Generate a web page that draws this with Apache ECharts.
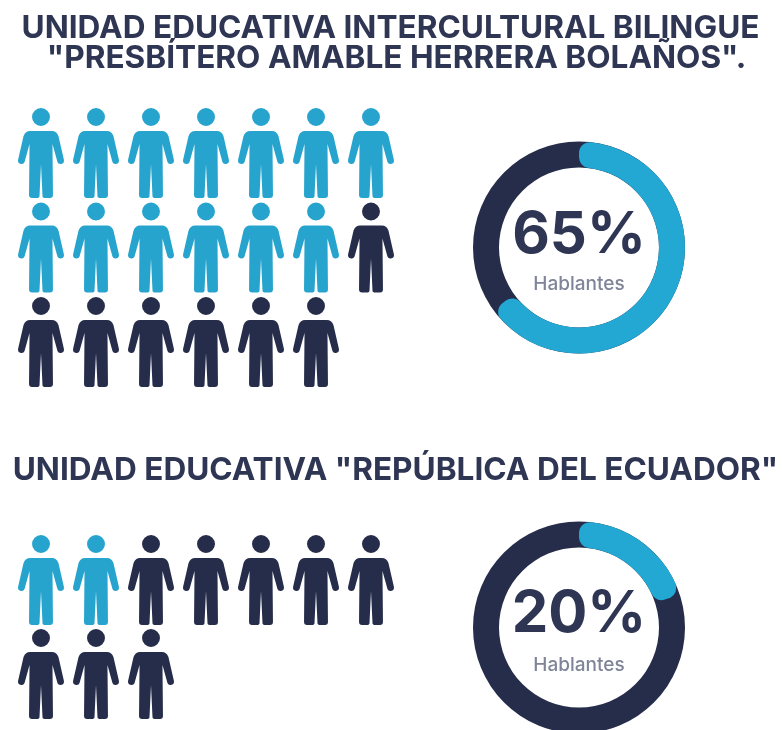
<!DOCTYPE html>
<html>
<head>
<meta charset="utf-8">
<style>html,body{margin:0;padding:0;background:#fff}#main{width:782px;height:730px}</style>
<script src="https://cdn.jsdelivr.net/npm/echarts@6/dist/echarts.min.js"></script>
</head>
<body>
<div id="main"></div>
<script>
// datos
const titulos = ['UNIDAD EDUCATIVA INTERCULTURAL BILINGUE', '"PRESBÍTERO AMABLE HERRERA BOLAÑOS".', 'UNIDAD EDUCATIVA "REPÚBLICA DEL ECUADOR"'];
const porcentajes = [65, 20];
const etiqueta = 'Hablantes';
const filasEscuela1 = [7, 7, 6];
const filasEscuela2 = [7, 3];
const hablantesEscuela1 = 13;
const hablantesEscuela2 = 2;

const AZUL = '#26a4cd', AZUL_ANILLO = '#23a8d3', OSCURO = '#262d4a', TEXTO = '#2f3654', GRIS = '#7f8498';
// silueta de persona
const PERSONA = 'path://M14 9a9 9 0 1 0 18 0a9 9 0 1 0 -18 0Z' +
  'M12 23L34 23Q38.5 23 40.5 28L46 52Q46.5 55.5 43 56Q40.5 56.5 39.5 54L34.5 36L35 87Q35 90 32 90L27.5 90Q24.5 90 24.5 88L23 56L21.5 88Q21.5 90 18.5 90L14 90Q11 90 11 87L11.5 36L6.5 54Q5.5 56.5 3 56Q-0.5 55.5 0 52L5.5 28Q7.5 23 12 23Z';

function puntos(filas) {
  const out = [];
  filas.forEach((n, fila) => {
    for (let col = 0; col < n; col++) out.push([col, fila]);
  });
  return out;
}

function personas(filas, hablantes, idx) {
  const pts = puntos(filas);
  return {
    type: 'scatter',
    xAxisIndex: idx,
    yAxisIndex: idx,
    symbol: PERSONA,
    symbolSize: [46, 90],
    silent: true,
    data: pts.map((p, i) => ({ value: p, itemStyle: { color: i < hablantes ? AZUL : OSCURO, opacity: 1 } }))
  };
}

function anillo(valor, centro) {
  return [
    {
      type: 'pie', radius: [80, 106], center: centro, silent: true, label: { show: false },
      data: [{ value: 100, itemStyle: { color: OSCURO } }]
    },
    {
      type: 'pie', radius: [80, 106], center: centro, silent: true, startAngle: 90, z: 3,
      label: { show: false }, labelLine: { show: false },
      data: [
        { value: valor, itemStyle: { color: AZUL_ANILLO, borderRadius: 11 } },
        { value: 100 - valor, itemStyle: { color: 'transparent' } }
      ]
    }
  ];
}

function texto(t, x, y, size, weight, color) {
  return {
    text: t, left: x, top: y, textAlign: 'center', padding: 0,
    textStyle: { fontFamily: 'Inter', fontSize: size, fontWeight: weight, color: color }
  };
}

const chart = echarts.init(document.getElementById('main'));
chart.setOption({
  animation: false,
  backgroundColor: '#fff',
  title: [
    texto(titulos[0], 390.5, 12, 31.6, 700, TEXTO),
    texto(titulos[1], 396.5, 42, 31.6, 700, TEXTO),
    texto(titulos[2], 395.5, 454, 31.6, 700, TEXTO),
    texto(porcentajes[0] + '%', 579, 207, 58, 700, TEXTO),
    texto(etiqueta, 579, 275, 19, 500, GRIS),
    texto(porcentajes[1] + '%', 579, 586, 58, 700, TEXTO),
    texto(etiqueta, 579, 656, 19, 500, GRIS)
  ],
  grid: [
    { left: 41, width: 330, top: 153, height: 189 },
    { left: 41, width: 330, top: 580, height: 94 }
  ],
  xAxis: [
    { gridIndex: 0, type: 'value', min: 0, max: 6, show: false },
    { gridIndex: 1, type: 'value', min: 0, max: 6, show: false }
  ],
  yAxis: [
    { gridIndex: 0, type: 'value', min: 0, max: 2, inverse: true, show: false },
    { gridIndex: 1, type: 'value', min: 0, max: 1, inverse: true, show: false }
  ],
  series: [
    personas(filasEscuela1, hablantesEscuela1, 0),
    personas(filasEscuela2, hablantesEscuela2, 1),
    ...anillo(porcentajes[0], [579, 247.5]),
    ...anillo(porcentajes[1], [579, 627.5])
  ]
});
</script>
</body>
</html>
